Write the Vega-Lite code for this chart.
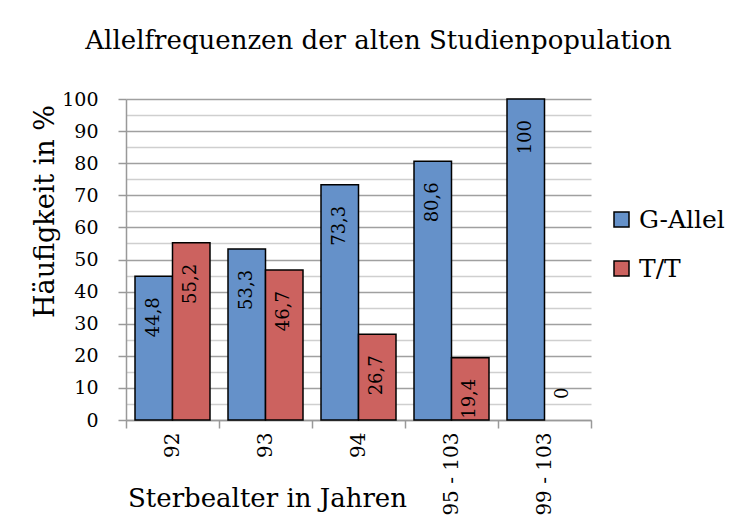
{
  "$schema": "https://vega.github.io/schema/vega-lite/v6.json",
  "autosize": {"type": "none"},
  "padding": {"left": 126, "top": 99, "right": 146, "bottom": 111},
  "width": 465,
  "height": 321,
  "background": "white",
  "config": {
    "font": "DejaVu Serif",
    "view": {"stroke": null},
    "locale": {"number": {"decimal": ",", "thousands": ".", "grouping": [3], "currency": ["", " €"]}},
    "title": {"font": "DejaVu Serif", "fontSize": 26, "fontWeight": "normal", "color": "black"},
    "axis": {"labelFont": "DejaVu Serif", "titleFont": "DejaVu Serif", "labelColor": "black", "titleColor": "black", "titleFontWeight": "normal"},
    "legend": {"labelFont": "DejaVu Serif"},
    "text": {"font": "DejaVu Serif"}
  },
  "title": {"text": "Allelfrequenzen der alten Studienpopulation", "anchor": "middle", "frame": "group", "dx": 20, "offset": 36},
  "data": {
    "values": [
      {"alter": "92", "serie": "G-Allel", "wert": 44.8},
      {"alter": "92", "serie": "T/T", "wert": 55.2},
      {"alter": "93", "serie": "G-Allel", "wert": 53.3},
      {"alter": "93", "serie": "T/T", "wert": 46.7},
      {"alter": "94", "serie": "G-Allel", "wert": 73.3},
      {"alter": "94", "serie": "T/T", "wert": 26.7},
      {"alter": "95 - 103", "serie": "G-Allel", "wert": 80.6},
      {"alter": "95 - 103", "serie": "T/T", "wert": 19.4},
      {"alter": "99 - 103", "serie": "G-Allel", "wert": 100},
      {"alter": "99 - 103", "serie": "T/T", "wert": 0}
    ]
  },
  "encoding": {
    "x": {
      "field": "alter", "type": "nominal", "sort": null,
      "scale": {"paddingInner": 0, "paddingOuter": 0},
      "axis": {
        "title": "Sterbealter in Jahren", "titleFontSize": 26, "titleX": 141, "titleY": 78, "titleBaseline": "middle",
        "labelAngle": 270, "labelFontSize": 20, "labelPadding": 4,
        "tickBand": "extent", "tickSize": 8, "tickColor": "#999999", "domainColor": "#999999", "tickWidth": 1.5, "domainWidth": 1.5,
        "grid": false
      }
    },
    "xOffset": {"field": "serie", "type": "nominal", "scale": {"paddingInner": 0, "paddingOuter": 0.24}},
    "y": {
      "field": "wert", "type": "quantitative",
      "scale": {"domain": [0, 100], "nice": false},
      "axis": {
        "title": "Häufigkeit in %", "titleFontSize": 27, "titleAngle": -90, "titleX": -81, "titleY": 112, "titleBaseline": "middle", "titleAlign": "center",
        "values": [0, 5, 10, 15, 20, 25, 30, 35, 40, 45, 50, 55, 60, 65, 70, 75, 80, 85, 90, 95, 100],
        "labelExpr": "datum.value % 10 === 0 ? datum.value : ''",
        "labelFontSize": 19, "labelPadding": 20,
        "tickSize": 8, "tickWidth": 1.5,
        "tickColor": {"condition": {"test": "datum.value % 10 === 0", "value": "#999999"}, "value": "transparent"},
        "grid": true, "gridWidth": 1.5,
        "gridColor": {"condition": {"test": "datum.value % 10 === 0", "value": "#a0a0a0"}, "value": "#cfcfcf"},
        "domainColor": "#999999", "domainWidth": 1.5
      }
    }
  },
  "layer": [
    {
      "transform": [{"filter": "datum.wert > 0"}],
      "mark": {"type": "bar", "stroke": "black", "strokeWidth": 1.5},
      "encoding": {
        "color": {
          "field": "serie", "type": "nominal",
          "scale": {"domain": ["G-Allel", "T/T"], "range": ["#6591C9", "#CC625F"]},
          "legend": {
            "title": null, "orient": "none", "legendX": 483, "legendY": 108,
            "symbolType": "square", "symbolSize": 225, "symbolStrokeColor": "black", "symbolStrokeWidth": 1.5,
            "labelFont": "DejaVu Serif", "labelFontSize": 25, "labelColor": "black", "labelOffset": 5, "rowPadding": 23
          }
        }
      }
    },
    {
      "transform": [{"filter": "datum.wert > 0"}],
      "mark": {"type": "text", "angle": 270, "align": "right", "baseline": "middle", "dx": -21, "fontSize": 18, "color": "black"},
      "encoding": {"text": {"field": "wert", "type": "quantitative", "format": ".3~r"}}
    },
    {
      "transform": [{"filter": "datum.wert == 0"}],
      "mark": {"type": "text", "angle": 270, "align": "left", "baseline": "middle", "dx": 21, "fontSize": 18, "color": "black"},
      "encoding": {"text": {"field": "wert", "type": "quantitative", "format": ".3~r"}}
    }
  ]
}
